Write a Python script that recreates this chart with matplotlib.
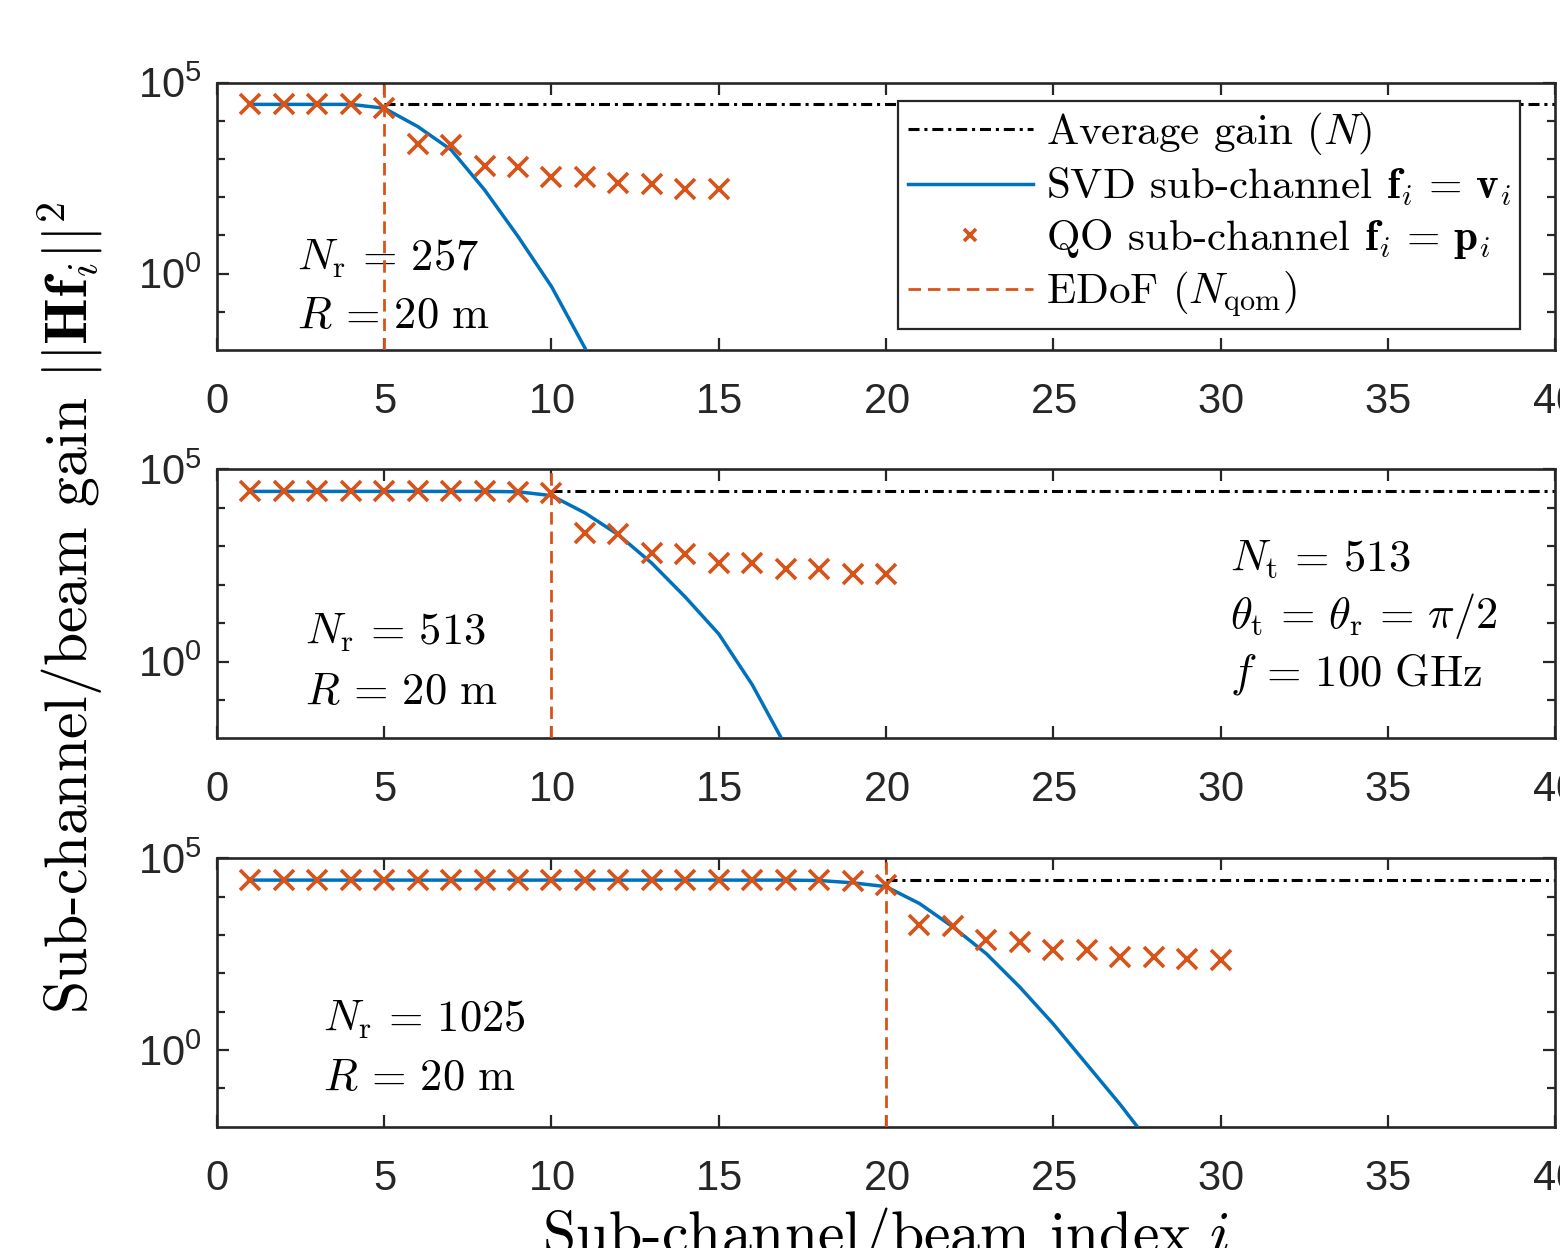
import matplotlib

matplotlib.use("Agg")
import matplotlib.pyplot as plt
import numpy as np
from matplotlib.ticker import FixedLocator, NullFormatter

plt.rcParams["mathtext.fontset"] = "cm"
plt.rcParams["font.family"] = "cmr10"
plt.rcParams["axes.formatter.use_mathtext"] = True

BLUE = "#0072BD"
ORANGE = "#D95319"
INK = "#262626"
EQ = r"\,=\,"  # LaTeX-like room round the equals sign

# values, as log10 of the gain
AVG_LOG = 4.43
X_TICKS = [0, 5, 10, 15, 20, 25, 30, 35, 40]
Y_MAJOR = [1e0, 1e5]
Y_MINOR = [1e-1, 1e1, 1e2, 1e3, 1e4]
Y_LABELS = [r"$\mathregular{10^{0}}$", r"$\mathregular{10^{5}}$"]

N_QOM = [5, 10, 20]
N_R = ["257", "513", "1025"]

SVD_257 = [4.43, 4.43, 4.43, 4.43, 4.33, 3.85, 3.24, 2.19, 0.97, -0.34,
           -1.95, -3.9, -6.0]
QO_257 = [4.43, 4.43, 4.43, 4.43, 4.34, 3.40, 3.37, 2.81, 2.80, 2.52,
          2.52, 2.37, 2.34, 2.22, 2.21]

SVD_513 = [4.43, 4.43, 4.43, 4.43, 4.43, 4.43, 4.43, 4.43, 4.42, 4.32,
           3.87, 3.30, 2.56, 1.68, 0.72, -0.60, -2.2, -4.1, -6.2]
QO_513 = [4.43, 4.43, 4.43, 4.43, 4.43, 4.43, 4.43, 4.43, 4.41, 4.38,
          3.34, 3.32, 2.83, 2.81, 2.57, 2.56, 2.42, 2.40, 2.28, 2.27]

SVD_1025 = [4.43, 4.43, 4.43, 4.43, 4.43, 4.43, 4.43, 4.43, 4.43, 4.43,
            4.43, 4.43, 4.43, 4.43, 4.43, 4.43, 4.43, 4.42, 4.36, 4.26,
            3.82, 3.21, 2.51, 1.64, 0.68, -0.37, -1.42, -2.55, -3.9, -5.4]
QO_1025 = [4.43, 4.43, 4.43, 4.43, 4.43, 4.43, 4.43, 4.43, 4.43, 4.43,
           4.43, 4.43, 4.43, 4.43, 4.43, 4.43, 4.43, 4.43, 4.41, 4.31,
           3.25, 3.23, 2.86, 2.82, 2.62, 2.62, 2.43, 2.43, 2.36, 2.35]

SVD = [SVD_257, SVD_513, SVD_1025]
QO = [QO_257, QO_513, QO_1025]

# axes rectangles in figure fractions (left, bottom, width, height)
RECTS = [
    (0.1391, 0.7196, 0.8577, 0.2142),
    (0.1391, 0.4083, 0.8577, 0.2155),
    (0.1391, 0.0972, 0.8577, 0.2151),
]
# (x, y) of the two annotation lines, axes fractions
NOTE_POS = [
    ((0.060, 0.299), (0.060, 0.082)),
    ((0.066, 0.348), (0.066, 0.128)),
    ((0.079, 0.353), (0.079, 0.137)),
]
NOTE_SIZE = 32

fig = plt.figure(figsize=(15.6, 12.48), dpi=100)
axes = []
for k, rect in enumerate(RECTS):
    ax = fig.add_axes(rect)
    axes.append(ax)
    svd = 10.0 ** np.array(SVD[k])
    qo = 10.0 ** np.array(QO[k])
    avg = 10.0 ** AVG_LOG
    ax.set_yscale("log")

    ax.hlines(avg, N_QOM[k], X_TICKS[-1], colors="black", lw=2.2,
              linestyles=(0, (3.6, 1.6, 1.0, 1.6)), label="Average gain $(N)$",
              zorder=2)
    ax.plot(np.arange(1, len(svd) + 1), svd, color=BLUE, lw=2.5,
            label=r"SVD sub-channel $\mathbf{f}_i" + EQ + r"\mathbf{v}_i$",
            zorder=3)
    ax.plot(np.arange(1, len(qo) + 1), qo, ls="none", marker="x", ms=14,
            mew=2.6, color=ORANGE,
            label=r"QO sub-channel $\mathbf{f}_i" + EQ + r"\mathbf{p}_i$",
            zorder=4)
    ax.axvline(N_QOM[k], color=ORANGE, lw=2.0, ls=(0, (4.5, 2.5)),
               label=r"EDoF $(N_\mathrm{qom})$", zorder=5)

    ax.set_xlim(X_TICKS[0], X_TICKS[-1])
    ax.set_ylim(1e-2, 1e5)
    ax.set_xticks(X_TICKS)
    ax.yaxis.set_major_locator(FixedLocator(Y_MAJOR))
    ax.yaxis.set_minor_locator(FixedLocator(Y_MINOR))
    ax.yaxis.set_minor_formatter(NullFormatter())
    ax.set_yticklabels(Y_LABELS)
    ax.xaxis.set_minor_locator(FixedLocator([]))

    ax.tick_params(axis="both", which="both", direction="in", top=True,
                   right=True, color=INK, width=1.6, labelcolor=INK,
                   labelsize=30, labelfontfamily="Liberation Sans")
    ax.tick_params(axis="both", which="major", length=8.6)
    ax.tick_params(axis="y", which="minor", length=5.8)
    ax.tick_params(axis="x", pad=23)
    ax.tick_params(axis="y", pad=11)
    for sp in ax.spines.values():
        sp.set_color(INK)
        sp.set_linewidth(1.9)

    (x1, y1), (x2, y2) = NOTE_POS[k]
    ax.text(x1, y1, r"$N_\mathrm{r}" + EQ + N_R[k] + "$", transform=ax.transAxes,
            fontsize=NOTE_SIZE, va="baseline", ha="left")
    ax.text(x2, y2, r"$R" + EQ + r"20\ \mathrm{m}$", transform=ax.transAxes,
            fontsize=NOTE_SIZE, va="baseline", ha="left")

# system parameters, middle panel
PARAMS = [
    (0.626, r"$N_\mathrm{t}" + EQ + "513$"),
    (0.411, r"$\theta_\mathrm{t}" + EQ + r"\theta_\mathrm{r}" + EQ + r"\pi/2$"),
    (0.195, r"$f" + EQ + r"100\ \mathrm{GHz}$"),
]
for y, s in PARAMS:
    axes[1].text(0.757, y, s, transform=axes[1].transAxes,
                 fontsize=NOTE_SIZE, va="baseline", ha="left")

leg = axes[0].legend(loc="upper right", bbox_to_anchor=(0.974, 0.932),
                     borderaxespad=0, fontsize=31, handlelength=2.9,
                     handletextpad=0.3, borderpad=0.22, labelspacing=0.2,
                     fancybox=False, framealpha=1, edgecolor=INK,
                     markerscale=0.6)
leg.get_frame().set_linewidth(1.6)

fig.text(0.045, 0.513, r"Sub-channel/beam gain $||\mathbf{H}\mathbf{f}_i||^2$",
         rotation=90, ha="center", va="center", fontsize=43, color="black")
fig.text(0.568, 0.0345, r"Sub-channel/beam index $i$", ha="center", va="top",
         fontsize=43, color="black")

fig.savefig("out.png", dpi=100, facecolor="white")
